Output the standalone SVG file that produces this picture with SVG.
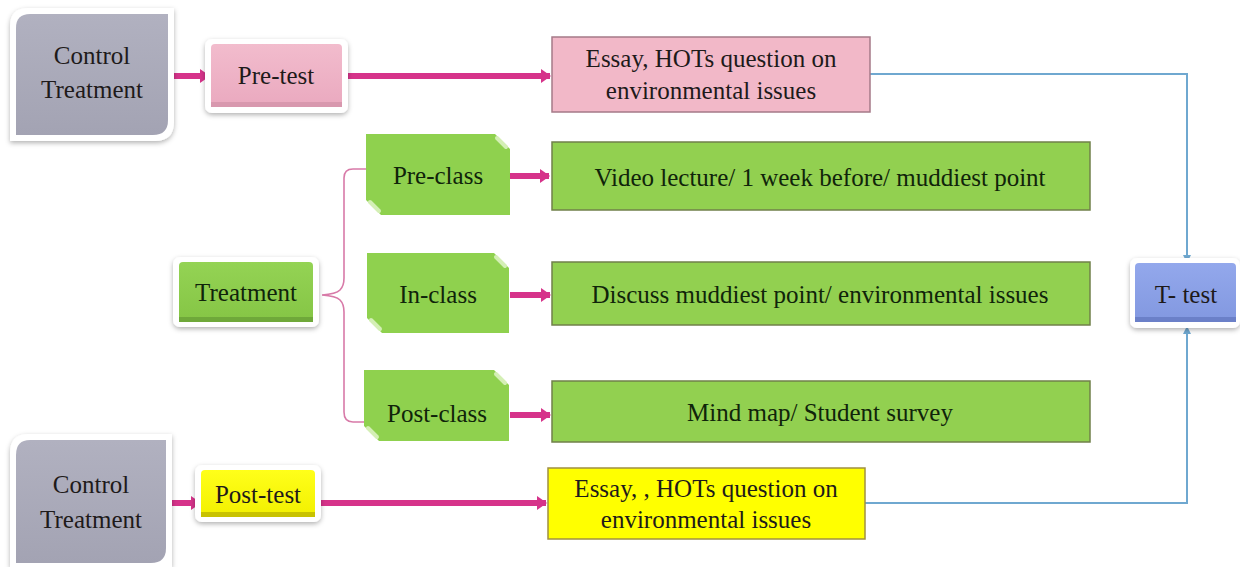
<svg xmlns="http://www.w3.org/2000/svg" width="1240" height="567" viewBox="0 0 1240 567">
<defs>
<style>
text{font-family:'Liberation Serif','DejaVu Serif','Noto Serif',serif;font-size:25px;fill:#1e1a1a;text-anchor:middle}
.g text{fill:#10240a}
.mag{stroke:#d6338a;stroke-width:6;fill:none}
.blu{stroke:#6fa8d0;stroke-width:2;fill:none}
.brace{stroke:#d87aa8;stroke-width:1.6;fill:none}
.gbox{fill:#92d050;stroke:#70804a;stroke-width:1.5}
.tab{fill:#8fd14e}
.fold{stroke:#d4efb5;stroke-width:4;stroke-linecap:round}
.halo{fill:#ffffff;filter:url(#sh)}
</style>
<filter id="sh" x="-20%" y="-20%" width="140%" height="150%">
<feDropShadow dx="0" dy="2" stdDeviation="2.5" flood-color="#000" flood-opacity="0.3"/>
</filter>
<linearGradient id="gray" x1="0" y1="0" x2="0" y2="1"><stop offset="0" stop-color="#b1b1c0"/><stop offset="1" stop-color="#a3a3b3"/></linearGradient>
<linearGradient id="pink" x1="0" y1="0" x2="0" y2="1"><stop offset="0" stop-color="#f2bccd"/><stop offset="1" stop-color="#eaa9bf"/></linearGradient>
<linearGradient id="green" x1="0" y1="0" x2="0" y2="1"><stop offset="0" stop-color="#94d354"/><stop offset="1" stop-color="#85c545"/></linearGradient>
<linearGradient id="blue" x1="0" y1="0" x2="0" y2="1"><stop offset="0" stop-color="#93a8ec"/><stop offset="1" stop-color="#8298e0"/></linearGradient>
<linearGradient id="yel" x1="0" y1="0" x2="0" y2="1"><stop offset="0" stop-color="#ffff1a"/><stop offset="1" stop-color="#f2f000"/></linearGradient>
<marker id="am" markerUnits="userSpaceOnUse" markerWidth="10" markerHeight="14" refX="9" refY="7" orient="auto"><path d="M0,0 L10,7 L0,14 Z" fill="#d6338a"/></marker>
<marker id="ab" markerUnits="userSpaceOnUse" markerWidth="8" markerHeight="8" refX="7" refY="4" orient="auto"><path d="M0,0 L8,4 L0,8 Z" fill="#6fa8d0"/></marker>
</defs>
<rect width="1240" height="567" fill="#ffffff"/>

<g id="connectors">
<line class="mag" x1="169" y1="76" x2="209" y2="76" marker-end="url(#am)"/>
<line class="mag" x1="343" y1="76" x2="550" y2="76" marker-end="url(#am)"/>
<line class="mag" x1="507" y1="176" x2="549" y2="176" marker-end="url(#am)"/>
<line class="mag" x1="510" y1="295" x2="550" y2="295" marker-end="url(#am)"/>
<line class="mag" x1="510" y1="415" x2="550" y2="415" marker-end="url(#am)"/>
<line class="mag" x1="166" y1="503" x2="200" y2="503" marker-end="url(#am)"/>
<line class="mag" x1="316" y1="503" x2="546" y2="503" marker-end="url(#am)"/>
<polyline class="blu" points="870,74 1187,74 1187,262" marker-end="url(#ab)"/>
<polyline class="blu" points="865,503 1187,503 1187,327" marker-end="url(#ab)"/>
<path class="brace" d="M322,295 Q336,294 340,290 Q344,286 344,278 V178 Q344,169 353,169 H366 M322,295 Q336,296 340,300 Q344,304 344,312 V412 Q344,422 353,422 H366"/>
</g>

<g id="control-top">
<path class="halo" d="M10,26 Q10,8 28,8 H174 V122 Q174,141 155,141 H10 Z"/>
<path d="M16,28 Q16,14 30,14 H168 V120 Q168,135 153,135 H16 Z" fill="url(#gray)"/>
<text x="92" y="64" font-family="Liberation Serif, serif">Control</text>
<text x="92" y="98" font-family="Liberation Serif, serif">Treatment</text>
</g>

<g id="pre-test">
<rect class="halo" x="205" y="39" width="143" height="74" rx="7"/>
<rect x="211" y="44" width="131" height="63" rx="4" fill="url(#pink)"/>
<rect x="211" y="102" width="131" height="5" fill="#d898ae"/>
<text x="276" y="84">Pre-test</text>
</g>

<g id="essay-pre">
<rect x="552" y="37" width="318" height="75" fill="#f2b8c8" stroke="#a57a88" stroke-width="1.5"/>
<text x="711" y="67">Essay, HOTs question on</text>
<text x="711" y="99">environmental issues</text>
</g>

<g id="pre-class" class="g">
<path class="tab" d="M366,134 H495 L510,149 V215 H381 L366,200 Z"/>
<line class="fold" x1="497" y1="138" x2="506" y2="147"/>
<line class="fold" x1="370" y1="202" x2="379" y2="211"/>
<text x="438" y="184">Pre-class</text>
</g>

<g id="video" class="g">
<rect class="gbox" x="552" y="142" width="538" height="68"/>
<text x="820" y="186">Video lecture/ 1 week before/ muddiest point</text>
</g>

<g id="treatment" class="g">
<rect class="halo" x="173" y="257" width="146" height="70" rx="7"/>
<rect x="179" y="262" width="134" height="60" rx="4" fill="url(#green)"/>
<rect x="179" y="317" width="134" height="5" fill="#6fa83a"/>
<text x="246" y="301">Treatment</text>
</g>

<g id="in-class" class="g">
<path class="tab" d="M367,253 H494 L509,268 V333 H382 L367,318 Z"/>
<line class="fold" x1="496" y1="257" x2="505" y2="266"/>
<line class="fold" x1="371" y1="320" x2="380" y2="329"/>
<text x="438" y="303">In-class</text>
</g>

<g id="discuss" class="g">
<rect class="gbox" x="552" y="262" width="538" height="63"/>
<text x="820" y="303">Discuss muddiest  point/ environmental issues</text>
</g>

<g id="post-class" class="g">
<path class="tab" d="M364,370 H494 L509,385 V441 H379 L364,426 Z"/>
<line class="fold" x1="496" y1="374" x2="505" y2="383"/>
<line class="fold" x1="368" y1="428" x2="377" y2="437"/>
<text x="437" y="422">Post-class</text>
</g>

<g id="mindmap" class="g">
<rect class="gbox" x="552" y="381" width="538" height="61"/>
<text x="820" y="421">Mind map/ Student survey</text>
</g>

<g id="t-test">
<rect class="halo" x="1130" y="258" width="110" height="70" rx="7"/>
<rect x="1135" y="263" width="101" height="59" rx="4" fill="url(#blue)"/>
<rect x="1135" y="317" width="101" height="5" fill="#6b80c8"/>
<text x="1186" y="303">T- test</text>
</g>

<g id="control-bottom">
<path class="halo" d="M10,453 Q10,434 28,434 H172 V567 H10 Z"/>
<path d="M16,455 Q16,440 30,440 H166 V548 Q166,563 151,563 H16 Z" fill="url(#gray)"/>
<text x="91" y="493">Control</text>
<text x="91" y="528">Treatment</text>
</g>

<g id="post-test">
<rect class="halo" x="195" y="465" width="126" height="57" rx="7"/>
<rect x="201" y="470" width="114" height="47" rx="4" fill="url(#yel)"/>
<rect x="201" y="512" width="114" height="5" fill="#c8c200"/>
<text x="258" y="503">Post-test</text>
</g>

<g id="essay-post">
<rect x="548" y="468" width="317" height="71" fill="#ffff00" stroke="#a09040" stroke-width="1.5"/>
<text x="706" y="497">Essay, , HOTs question on</text>
<text x="706" y="528">environmental issues</text>
</g>
</svg>
